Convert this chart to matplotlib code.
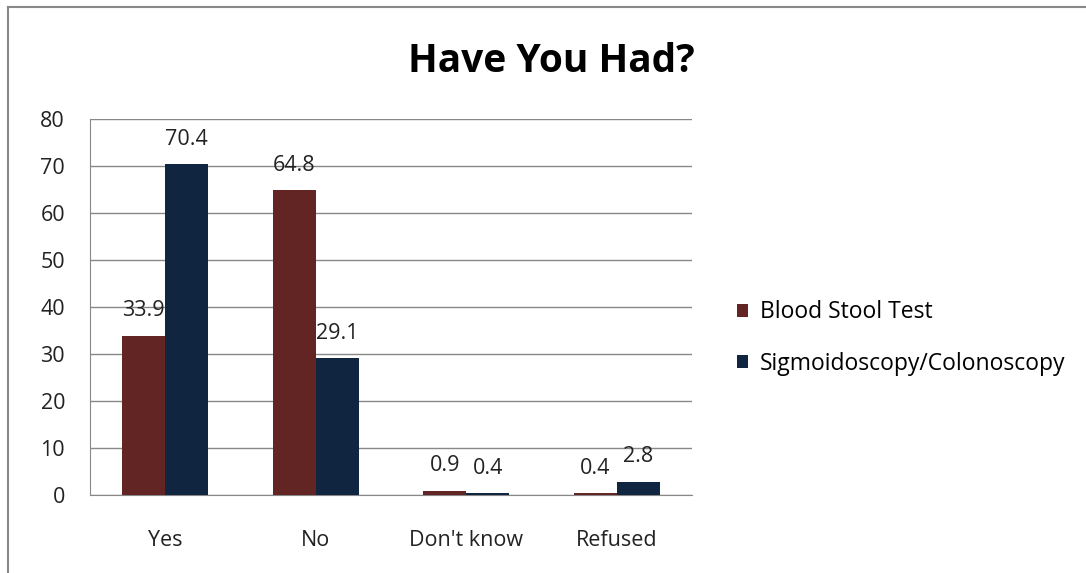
"""
Have You Had? - grouped bar chart
"""

import numpy as np
import matplotlib
matplotlib.use('Agg')
import matplotlib.pyplot as plt

categories = ['Yes', 'No', "Don't know", 'Refused']
blood_stool = [33.9, 64.8, 0.9, 0.4]
sigmoid_colon = [70.4, 29.1, 0.4, 2.8]
series_names = ['Blood Stool Test', 'Sigmoidoscopy/Colonoscopy']
yticks = [0, 10, 20, 30, 40, 50, 60, 70, 80]


def main():
    plt.rcParams['font.family'] = ['Open Sans', 'DejaVu Sans']

    fig = plt.figure(figsize=(10.86, 5.73), dpi=100)
    ax = fig.add_axes([90 / 1086, 1 - 495 / 573, (692 - 90) / 1086, (495 - 119) / 573])

    # Chart border (left and top edges of the chart area)
    fig.add_artist(plt.Line2D([8 / 1086, 8 / 1086], [0, 1 - 7 / 573],
                              color='#888888', lw=1.5, transform=fig.transFigure))
    fig.add_artist(plt.Line2D([8 / 1086, 1], [1 - 7 / 573, 1 - 7 / 573],
                              color='#888888', lw=1.5, transform=fig.transFigure))

    x = np.arange(len(categories))
    w = 0.286
    b1 = ax.bar(x - w / 2, blood_stool, w, color='#632523', label=series_names[0], zorder=3)
    b2 = ax.bar(x + w / 2, sigmoid_colon, w, color='#10253F', label=series_names[1], zorder=3)

    for bars in (b1, b2):
        for rect in bars:
            h = rect.get_height()
            ax.annotate('%.1f' % h, (rect.get_x() + rect.get_width() / 2, h),
                        xytext=(0, 18), textcoords='offset points',
                        ha='center', va='center', fontsize=15.5, color='#222222',
                        zorder=4)

    ax.set_xlim(-0.5, len(categories) - 0.5)
    ax.set_ylim(0, 80)
    ax.set_yticks(yticks)
    ax.set_xticks(x)
    ax.set_xticklabels(categories)
    ax.tick_params(axis='y', length=0, pad=18, labelsize=15.5, colors='#222222')
    ax.tick_params(axis='x', length=0, pad=25, labelsize=15.5, colors='#222222')
    ax.yaxis.grid(True, color='#888888', lw=1, zorder=0)
    for s in ax.spines.values():
        s.set_color('#888888')
    ax.spines['top'].set_visible(False)
    ax.spines['right'].set_visible(False)

    fig.text(551 / 1086, 1 - 62 / 573, 'Have You Had?', ha='center', va='center',
             fontsize=28, fontweight='bold', color='black')

    fig.legend(loc='center left', bbox_to_anchor=(716 / 1086, 1 - 338 / 573),
               frameon=False, fontsize=16.5, handlelength=0.5, handleheight=0.5,
               labelspacing=1.2, handletextpad=0.5)

    fig.savefig('out.png', dpi=100)


if __name__ == '__main__':
    main()
